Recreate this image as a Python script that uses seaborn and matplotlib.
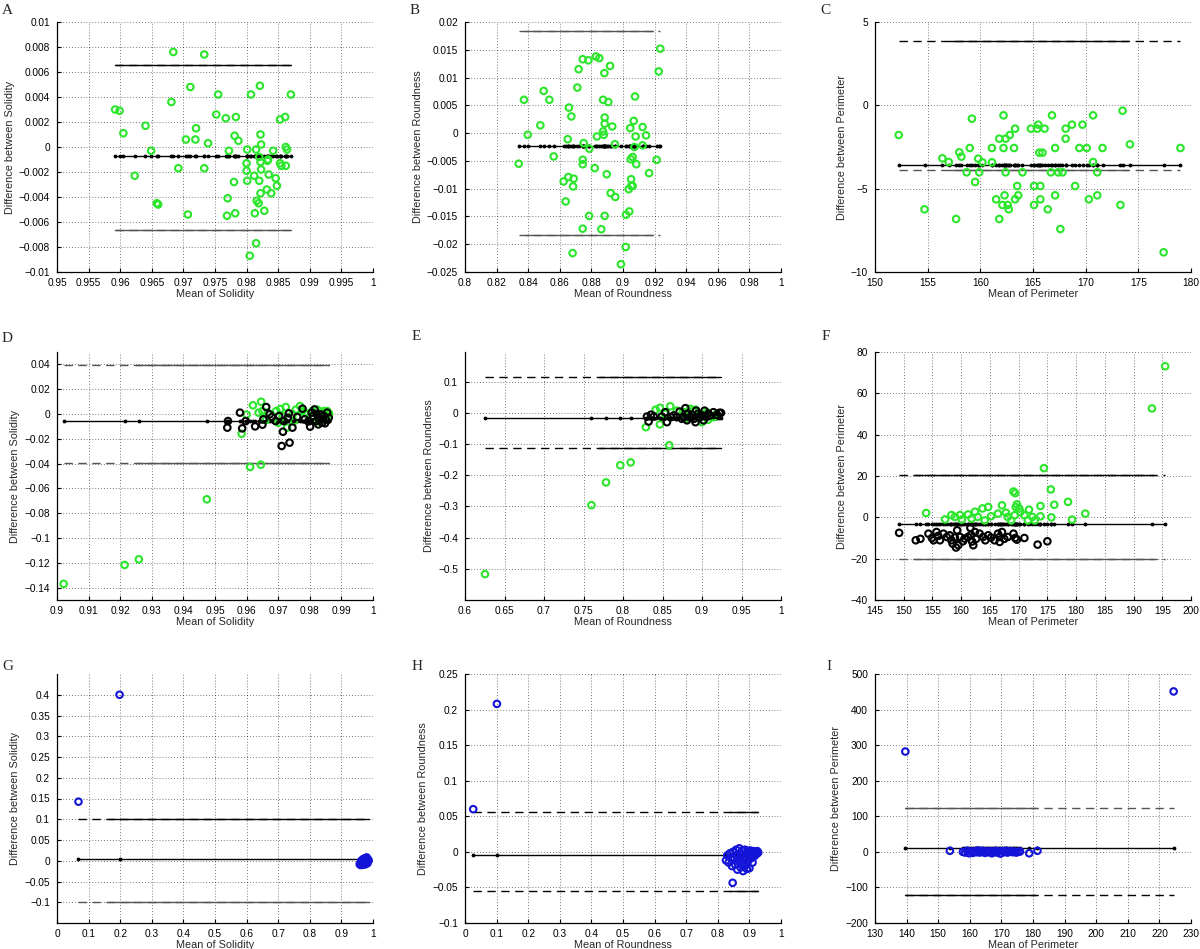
import numpy as np
import matplotlib
matplotlib.use("Agg")
import matplotlib.pyplot as plt
import seaborn as sns
from matplotlib.ticker import FuncFormatter

sns.set_style("white")
plt.rcParams['font.family'] = ['Liberation Sans', 'DejaVu Sans']

# ---------------- data (mean, difference) ----------------
A_green = [(0.9592, 0.0030), (0.9599, 0.0029), (0.9605, 0.0011), (0.9623, -0.0023), (0.9640, 0.0017),
           (0.9649, -0.0003), (0.9658, -0.0045), (0.9660, -0.0046), (0.9681, 0.0036), (0.9684, 0.0076),
           (0.9692, -0.0017), (0.9704, 0.0006), (0.9707, -0.0054), (0.9711, 0.0048), (0.9719, 0.0006),
           (0.9720, 0.0015), (0.9733, 0.0074), (0.9733, -0.0017), (0.9739, 0.0003), (0.9752, 0.0026),
           (0.9755, 0.0042), (0.9767, 0.0023), (0.9769, -0.0055), (0.9770, -0.0041), (0.9772, -0.0003),
           (0.9780, -0.0028), (0.9781, 0.0009), (0.9782, -0.0053), (0.9783, 0.0024), (0.9787, 0.0005),
           (0.9801, -0.0002), (0.9800, -0.0013), (0.9800, -0.0019), (0.9801, -0.0027), (0.9807, 0.0042),
           (0.9805, -0.0087), (0.9812, -0.0023), (0.9813, -0.0053), (0.9815, -0.0077), (0.9815, -0.0002),
           (0.9816, -0.0043), (0.9819, -0.0045), (0.9820, -0.0027), (0.9820, -0.0008), (0.9821, 0.0049),
           (0.9822, -0.0012), (0.9822, 0.0010), (0.9823, 0.0002), (0.9823, -0.0018), (0.9822, -0.0037),
           (0.9828, -0.0051), (0.9832, -0.0034), (0.9833, -0.0011), (0.9834, -0.0010), (0.9835, -0.0022),
           (0.9839, -0.0037), (0.9842, -0.0003), (0.9846, -0.0025), (0.9848, -0.0031), (0.9853, 0.0022),
           (0.9853, -0.0013), (0.9855, -0.0015), (0.9861, 0.0024), (0.9862, -0.0015), (0.9862, 0.0000),
           (0.9864, -0.0002), (0.9870, 0.0042)]
A_stats = (-0.00072, 0.0066, -0.0066)  # mean, upper, lower

B_green = [(0.8340, -0.0055), (0.8373, 0.0060), (0.8397, -0.0003), (0.8477, 0.0014), (0.8498, 0.0076),
           (0.8534, 0.0060), (0.8561, -0.0042), (0.8624, -0.0087), (0.8637, -0.0123), (0.8650, -0.0011),
           (0.8658, 0.0046), (0.8654, -0.0079), (0.8673, 0.0030), (0.8684, -0.0096), (0.8681, -0.0216),
           (0.8688, -0.0082), (0.8711, 0.0082), (0.8719, 0.0115), (0.8745, 0.0133), (0.8745, -0.0048),
           (0.8745, -0.0056), (0.8745, -0.0172), (0.8751, -0.0018), (0.8781, 0.0131), (0.8787, -0.0028),
           (0.8785, -0.0149), (0.8821, -0.0063), (0.8829, 0.0138), (0.8835, -0.0006), (0.8850, 0.0135),
           (0.8863, -0.0173), (0.8874, 0.0060), (0.8874, 0.0003), (0.8878, -0.0003), (0.8882, 0.0108),
           (0.8884, 0.0028), (0.8884, 0.0017), (0.8884, -0.0149), (0.8897, -0.0074), (0.8907, 0.0056),
           (0.8918, 0.0121), (0.8922, -0.0108), (0.8932, 0.0012), (0.8951, -0.0115), (0.8949, -0.0020),
           (0.8987, -0.0236), (0.9017, -0.0205), (0.9019, -0.0147), (0.9036, -0.0101), (0.9040, -0.0141),
           (0.9046, 0.0009), (0.9049, -0.0047), (0.9051, -0.0083), (0.9053, -0.0095), (0.9061, -0.0043),
           (0.9061, -0.0095), (0.9072, -0.0025), (0.9068, 0.0022), (0.9076, 0.0066), (0.9080, -0.0006),
           (0.9084, -0.0056), (0.9124, 0.0011), (0.9124, -0.0022), (0.9146, -0.0004), (0.9165, -0.0072),
           (0.9213, -0.0048), (0.9226, 0.0111), (0.9236, 0.0152)]
B_stats = (-0.00226, 0.0184, -0.0184)

C_green = [(152.25, -1.78), (154.7, -6.24), (156.4, -3.18), (157.0, -3.40), (157.7, -6.82), (158.0, -2.82),
           (158.2, -3.08), (158.7, -4.02), (159.0, -2.56), (159.2, -0.80), (159.5, -4.60), (159.8, -3.20),
           (159.9, -4.02), (160.2, -3.42), (161.1, -2.56), (161.1, -3.42), (161.5, -5.64), (161.8, -2.00),
           (161.8, -6.82), (162.1, -5.98), (162.2, -2.56), (162.2, -0.60), (162.3, -5.40), (162.4, -4.02),
           (162.4, -2.00), (162.6, -5.98), (162.7, -6.24), (162.8, -1.78), (163.2, -2.56), (163.3, -5.64),
           (163.3, -1.40), (163.5, -4.84), (163.6, -5.40), (164.0, -4.02), (164.8, -1.40), (165.1, -4.84),
           (165.1, -5.98), (165.4, -1.40), (165.5, -1.16), (165.6, -2.84), (165.7, -5.64), (165.7, -4.84),
           (165.9, -2.84), (166.1, -1.40), (166.4, -6.24), (166.7, -4.02), (166.8, -0.60), (167.1, -2.56),
           (167.1, -5.40), (167.4, -4.02), (167.6, -7.42), (167.8, -4.02), (168.1, -1.40), (168.1, -2.00),
           (168.7, -1.16), (169.0, -4.84), (169.4, -2.56), (169.7, -1.16), (170.1, -2.56), (170.3, -5.64),
           (170.7, -3.40), (170.7, -0.60), (171.1, -4.02), (171.1, -5.40), (171.6, -2.56), (173.3, -5.98),
           (173.5, -0.32), (174.2, -2.34), (177.4, -8.82), (179.0, -2.56)]
C_stats = (-3.6, 3.88, -3.9)

D_green = [(0.9021, -0.1370), (0.9214, -0.1217), (0.9259, -0.1172), (0.9474, -0.0688), (0.9584, -0.0159),
           (0.9611, -0.0427), (0.9620, 0.0070), (0.9645, -0.0409), (0.9646, 0.0099), (0.9638, 0.0011),
           (0.9650, 0.0024), (0.9667, 0.0011), (0.9694, 0.0024), (0.9707, 0.0040), (0.9724, 0.0056),
           (0.9728, -0.0110), (0.9746, -0.0003), (0.9756, 0.0035), (0.9769, 0.0064), (0.9776, 0.0024),
           (0.9792, -0.0003), (0.9808, 0.0024), (0.9824, 0.0035), (0.9834, 0.0011), (0.9845, 0.0024),
           (0.9855, 0.0024), (0.9861, 0.0003), (0.9813, -0.0030), (0.9840, -0.0040), (0.9750, -0.0057),
           (0.9700, -0.0070), (0.9600, -0.0005), (0.9660, -0.0050), (0.9715, -0.0020), (0.9785, 0.0010),
           (0.9830, -0.0060), (0.9850, -0.0010), (0.9860, -0.0020)]
D_black = [(0.9539, -0.0110), (0.9541, -0.0057), (0.9579, 0.0011), (0.9586, -0.0116), (0.9597, -0.0057),
           (0.9627, -0.0100), (0.9650, -0.0086), (0.9653, -0.0043), (0.9662, 0.0056), (0.9673, -0.0003),
           (0.9680, -0.0024), (0.9692, -0.0057), (0.9703, -0.0016), (0.9711, -0.0258), (0.9715, -0.0143),
           (0.9718, -0.0057), (0.9730, -0.0030), (0.9736, -0.0231), (0.9734, 0.0005), (0.9745, -0.0110),
           (0.9760, -0.0024), (0.9777, 0.0043), (0.9784, -0.0043), (0.9801, -0.0102), (0.9810, -0.0016),
           (0.9815, 0.0037), (0.9820, -0.0057), (0.9827, -0.0030), (0.9834, -0.0003), (0.9839, -0.0070),
           (0.9844, -0.0016), (0.9850, -0.0043), (0.9855, 0.0011), (0.9860, -0.0030), (0.9806, 0.0011),
           (0.9827, -0.0084), (0.9838, -0.0043), (0.9795, -0.0060), (0.9822, 0.0000), (0.9848, -0.0075)]
D_stats = (-0.0057, 0.0395, -0.0395)

E_green = [(0.6253, -0.517), (0.7600, -0.296), (0.7785, -0.223), (0.7966, -0.168), (0.8097, -0.159),
           (0.8290, -0.046), (0.8467, -0.037), (0.8585, -0.104), (0.8413, 0.010), (0.8467, 0.016),
           (0.8598, 0.021), (0.8770, 0.002), (0.8850, 0.013), (0.8977, -0.009), (0.9000, -0.030),
           (0.8890, 0.007), (0.9145, -0.014), (0.9060, 0.002), (0.9080, -0.022), (0.8810, -0.019),
           (0.8680, 0.007), (0.8530, -0.003), (0.8920, 0.010), (0.9180, -0.004)]
E_black = [(0.8303, -0.012), (0.8324, -0.028), (0.8354, -0.006), (0.8390, -0.012), (0.8490, -0.012),
           (0.8535, 0.002), (0.8556, -0.030), (0.8606, -0.014), (0.8640, -0.0085), (0.8680, -0.014),
           (0.8716, 0.004), (0.8745, -0.019), (0.8770, -0.014), (0.8790, 0.015), (0.8810, -0.024),
           (0.8820, -0.003), (0.8850, -0.014), (0.8870, -0.006), (0.8900, -0.019), (0.8918, -0.030),
           (0.8926, 0.007), (0.8947, -0.003), (0.8970, -0.014), (0.9000, -0.0085), (0.9020, -0.024),
           (0.9032, 0.007), (0.9050, -0.012), (0.9080, -0.003), (0.9100, -0.0085), (0.9145, 0.002),
           (0.9190, -0.006), (0.9220, 0.000), (0.9240, 0.000)]
E_stats = (-0.017, 0.114, -0.114)

F_green = [(195.5, 73.1), (193.2, 52.7), (174.4, 23.8), (169.1, 12.5), (169.4, 11.7), (175.6, 13.5),
           (176.2, 6.1), (178.6, 7.5), (181.6, 1.8), (179.3, -1.1), (175.7, 0.0), (173.8, 0.5), (173.8, 5.5),
           (153.9, 2.1), (157.2, -1.0), (158.3, 1.1), (159.8, 1.1), (161.2, 1.4), (162.4, 2.7), (163.7, 4.3),
           (164.7, 5.0), (167.1, 5.8), (167.8, 2.2), (166.4, 1.8), (165.2, 0.5), (169.5, 5.0), (169.7, 6.3),
           (170.1, 4.3), (170.3, 2.6), (171.0, 1.0), (171.8, 3.7), (172.4, 0.2), (160.1, -1.1), (161.8, -0.6),
           (162.9, 0.2), (164.1, -1.5), (168.1, 0.2), (168.7, -1.5), (169.3, 1.0), (171.6, -1.5),
           (172.8, -1.5), (158.9, 0.2)]
F_black = [(149.2, -7.5), (152.1, -11.1), (152.9, -10.4), (154.3, -7.9), (154.9, -10.0), (155.2, -11.1),
           (155.7, -7.1), (156.0, -9.0), (156.3, -11.1), (156.9, -7.9), (157.5, -9.5), (158.0, -8.7),
           (158.3, -11.1), (158.5, -12.7), (158.9, -9.8), (159.1, -14.6), (159.3, -6.3), (159.5, -13.5),
           (159.8, -9.5), (160.3, -11.6), (160.6, -10.3), (161.2, -9.5), (161.7, -8.4), (161.9, -11.7),
           (161.6, -5.1), (162.1, -13.5), (162.4, -7.1), (162.6, -10.4), (163.2, -7.9), (163.8, -9.5),
           (164.2, -11.1), (164.7, -8.7), (165.2, -9.8), (165.8, -11.1), (166.4, -7.9), (166.7, -9.5),
           (166.7, -11.9), (167.1, -7.1), (167.5, -10.4), (168.1, -9.5), (169.1, -7.9), (169.4, -10.0),
           (169.7, -10.8), (171.0, -10.0), (173.3, -13.2), (175.0, -11.6)]
F_stats = (-3.2, 20.6, -20.4)

G_blue = [(0.068, 0.1424), (0.198, 0.400), (0.958, -0.008), (0.960, -0.010), (0.962, -0.004), (0.963, 0.000),
          (0.965, -0.010), (0.966, -0.006), (0.968, -0.002), (0.969, 0.004), (0.970, -0.008), (0.971, -0.001),
          (0.972, -0.005), (0.973, 0.002), (0.974, -0.009), (0.975, -0.003), (0.976, 0.006), (0.977, -0.006),
          (0.978, 0.001), (0.979, -0.004), (0.980, 0.008), (0.981, -0.002), (0.982, 0.000), (0.983, -0.005),
          (0.984, 0.003), (0.985, -0.001), (0.986, 0.001), (0.967, 0.002), (0.974, 0.005), (0.980, -0.007)]
G_stats = (0.004, 0.1, -0.1)

H_blue = [(0.026, 0.060), (0.101, 0.208), (0.847, -0.0435), (0.826, -0.012), (0.830, -0.005), (0.834, -0.015),
          (0.838, -0.002), (0.842, -0.008), (0.845, -0.020), (0.848, 0.000), (0.852, -0.010), (0.855, -0.018),
          (0.858, 0.003), (0.860, -0.006), (0.862, -0.025), (0.865, -0.013), (0.868, 0.005), (0.870, -0.009),
          (0.872, -0.022), (0.874, -0.003), (0.876, -0.016), (0.878, 0.002), (0.880, -0.027), (0.882, -0.011),
          (0.884, -0.006), (0.886, 0.003), (0.888, -0.019), (0.890, -0.008), (0.892, -0.024), (0.894, 0.001),
          (0.896, -0.013), (0.898, -0.004), (0.900, -0.023), (0.902, 0.002), (0.905, -0.009), (0.908, -0.002),
          (0.910, -0.015), (0.913, 0.001), (0.916, -0.006), (0.919, 0.000), (0.922, -0.003), (0.925, 0.001),
          (0.928, -0.001)]
H_stats = (-0.0042, 0.0565, -0.0556)

I_blue = [(139.6, 282), (224.5, 451), (153.7, 3), (178.8, -4), (181.4, 3), (157.8, 0), (158.5, -2), (159.2, 3),
          (159.8, -4), (160.3, 1), (160.9, -3), (161.5, 2), (162.0, -1), (162.6, 4), (163.1, -2), (163.7, 0),
          (164.2, 3), (164.8, -3), (165.3, 1), (165.9, -1), (166.4, 2), (167.0, -4), (167.5, 0), (168.1, 3),
          (168.6, -2), (169.2, 1), (169.7, -5), (170.3, 2), (170.8, -1), (171.4, 3), (171.9, -2), (172.5, 0),
          (173.0, 2), (173.6, -1), (174.1, 1), (174.7, -2), (175.3, 0), (175.9, 1)]
I_stats = (12.0, 124.0, -122.0)

GREEN = '#2be62b'
BLUE = '#1414d8'
GRAY = '#555555'


def fmt(v, pos):
    return f"{round(v, 6) + 0.0:g}".replace('-', '\u2212')


def bland(ax, groups, stats, solid, up_col, lo_col, xlim, xticks, ylim, yticks, name):
    mean_d, upper, lower = stats
    allx = []
    for pts, col in groups:
        xs, ys = np.array(pts).T
        allx.append(xs)
        sns.scatterplot(x=xs, y=ys, ax=ax, marker='o', s=22, color=col,
                        facecolor='none', edgecolor=col, linewidth=1.5, zorder=3)
    allx = np.sort(np.concatenate(allx))
    x0, x1 = allx[0], allx[-1]
    for val, col in [(upper, up_col), (lower, lo_col)]:
        ax.plot([x0, x1], [val, val], color=col, lw=1, ls=(0, (6, 4)), zorder=2)
        ax.plot(solid, [val, val], color=col, lw=1, zorder=2)
    ax.plot(allx, np.full_like(allx, mean_d), color='k', lw=1, marker='.', ms=3.5, zorder=2)

    ax.set_xlim(*xlim)
    ax.set_ylim(*ylim)
    ax.set_xticks(xticks)
    ax.set_yticks(yticks)
    ax.xaxis.set_major_formatter(FuncFormatter(fmt))
    ax.yaxis.set_major_formatter(FuncFormatter(fmt))
    ax.grid(True, ls=(0, (1, 2.5)), color='k', lw=0.6, alpha=0.7)
    for s in ['top', 'right']:
        ax.spines[s].set_visible(False)
    for s in ['left', 'bottom']:
        ax.spines[s].set_color('k')
        ax.spines[s].set_linewidth(0.9)
    ax.tick_params(direction='in', length=3, width=0.8, labelsize=7.3,
                   left=True, bottom=True, colors='k')
    ax.tick_params(axis='x', pad=4)
    ax.tick_params(axis='y', pad=5)
    ax.set_xlabel('Mean of ' + name, fontsize=7.8, labelpad=1)
    ax.set_ylabel('Difference between ' + name, fontsize=7.8, labelpad=3)


fig = plt.figure(figsize=(12, 9.49), dpi=100)
W, H = 1200, 949
cols = [57, 465, 875]
rows = [(22, 272), (352, 600), (674, 923)]


def make_ax(c, r):
    top, bot = rows[r]
    return fig.add_axes([cols[c] / W, 1 - bot / H, 316 / W, (bot - top) / H])


t = np.round
bland(make_ax(0, 0), [(A_green, GREEN)], A_stats, [0.9592, 0.9870], 'k', GRAY,
      (0.95, 1.0), t(np.arange(0.95, 1.0001, 0.005), 3), (-0.01, 0.01), t(np.arange(-0.01, 0.0101, 0.002), 3), 'Solidity')
bland(make_ax(1, 0), [(B_green, GREEN)], B_stats, [0.838, 0.919], GRAY, GRAY,
      (0.8, 1.0), t(np.arange(0.8, 1.0001, 0.02), 2), (-0.025, 0.02), t(np.arange(-0.025, 0.0201, 0.005), 3), 'Roundness')
bland(make_ax(2, 0), [(C_green, GREEN)], C_stats, [157.0, 174.0], 'k', GRAY,
      (150, 180), np.arange(150, 181, 5), (-10, 5), np.arange(-10, 6, 5), 'Perimeter')

bland(make_ax(0, 1), [(D_green, GREEN), (D_black, 'k')], D_stats, [0.925, 0.9861], GRAY, GRAY,
      (0.9, 1.0), t(np.arange(0.9, 1.0001, 0.01), 2), (-0.15, 0.05), t(np.arange(-0.14, 0.0401, 0.02), 2), 'Solidity')
bland(make_ax(1, 1), [(E_green, GREEN), (E_black, 'k')], E_stats, [0.77, 0.924], 'k', 'k',
      (0.6, 1.0), t(np.arange(0.6, 1.0001, 0.05), 2), (-0.6, 0.195), t(np.arange(-0.5, 0.101, 0.1), 1), 'Roundness')
bland(make_ax(2, 1), [(F_green, GREEN), (F_black, 'k')], F_stats, [152.0, 193.5], 'k', GRAY,
      (145, 200), np.arange(145, 201, 5), (-40, 80), np.arange(-40, 81, 20), 'Perimeter')

bland(make_ax(0, 2), [(G_blue, BLUE)], G_stats, [0.16, 0.986], 'k', GRAY,
      (0, 1), t(np.arange(0, 1.001, 0.1), 1), (-0.15, 0.45), t(np.arange(-0.1, 0.401, 0.05), 2), 'Solidity')
bland(make_ax(1, 2), [(H_blue, BLUE)], H_stats, [0.835, 0.928], 'k', 'k',
      (0, 1), t(np.arange(0, 1.001, 0.1), 1), (-0.1, 0.25), t(np.arange(-0.1, 0.251, 0.05), 2), 'Roundness')
bland(make_ax(2, 2), [(I_blue, BLUE)], I_stats, [139.6, 181.0], GRAY, 'k',
      (130, 230), np.arange(130, 231, 10), (-200, 500), np.arange(-200, 501, 100), 'Perimeter')

letters = [('A', 2, 10), ('B', 410, 10), ('C', 820, 10),
           ('D', 2, 338), ('E', 412, 337), ('F', 822, 337),
           ('G', 2, 667), ('H', 412, 667), ('I', 826, 667)]
for lab, px, py in letters:
    fig.text(px / W, 1 - py / H, lab, ha='left', va='center', fontsize=11,
             family=['Liberation Serif', 'DejaVu Serif'])

fig.savefig('out.png', dpi=100)
